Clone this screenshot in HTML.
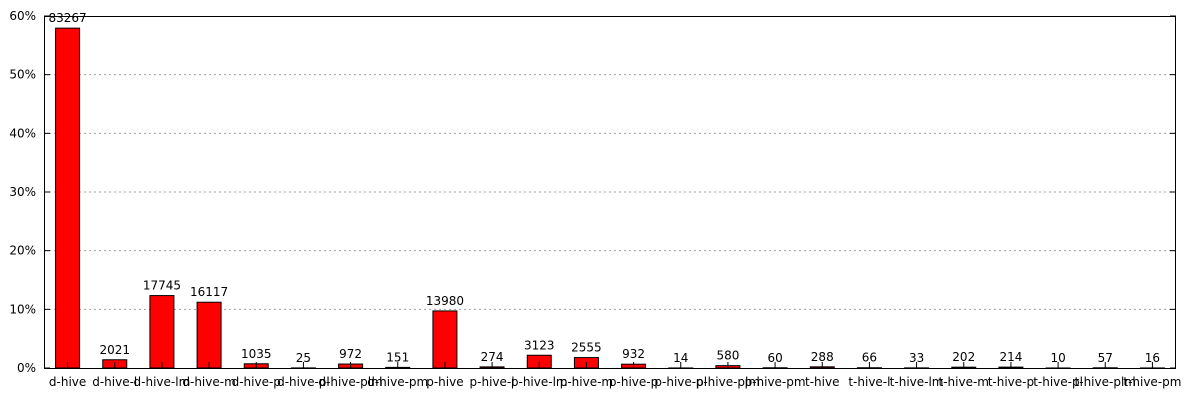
<!DOCTYPE html>
<html><head><meta charset="utf-8"><style>
html,body{margin:0;padding:0;background:#fff;}
svg text{font-family:"DejaVu Sans","Liberation Sans",sans-serif;font-size:12px;fill:#000;}
</style></head><body>
<svg id="chart" width="1200" height="400" xmlns="http://www.w3.org/2000/svg"></svg>
<script>
const categories = ["d-hive","d-hive-l","d-hive-lm","d-hive-m","d-hive-p","d-hive-pl","d-hive-plm","d-hive-pm","p-hive","p-hive-l","p-hive-lm","p-hive-m","p-hive-p","p-hive-pl","p-hive-plm","p-hive-pm","t-hive","t-hive-l","t-hive-lm","t-hive-m","t-hive-p","t-hive-pl","t-hive-plm","t-hive-pm"];
const counts = [83267,2021,17745,16117,1035,25,972,151,13980,274,3123,2555,932,14,580,60,288,66,33,202,214,10,57,16];
const yTicks = [0,10,20,30,40,50,60];
const yTickLabels = ["0%","10%","20%","30%","40%","50%","60%"];

const svg = document.getElementById('chart');
const NS = 'http://www.w3.org/2000/svg';
const L = 44, R = 1176, T = 16, B = 368;
const total = counts.reduce((a,b)=>a+b,0);
const band = (R-L)/categories.length;
function xC(i){ return L + band*(i+0.5); }
function y(p){ return B - (p/60)*(B-T); }
function mk(tag, attrs, text){
  const e = document.createElementNS(NS, tag);
  for (const k in attrs) e.setAttribute(k, attrs[k]);
  if (text !== undefined) e.textContent = text;
  svg.appendChild(e);
  return e;
}
yTicks.forEach((t,i)=>{
  if (t>0 && t<60) {
    const g = mk('line',{x1:L,x2:R,y1:y(t),y2:y(t),stroke:'#a0a0a0','stroke-dasharray':'2,3','stroke-width':1});
    
    
  }
  const tk = mk('line',{x1:L,x2:L+6,y1:y(t),y2:y(t),stroke:'#000'});
  
  
  const tk2 = mk('line',{x1:R-6,x2:R,y1:y(t),y2:y(t),stroke:'#000'});
  
  
  const lb = mk('text',{x:L-8,y:y(t)+4,'text-anchor':'end'},yTickLabels[i]);
  
  
});
categories.forEach((c,i)=>{
  const p = counts[i]/total*100;
  const top = y(p);
  const bar = mk('rect',{x:xC(i)-12,y:top,width:24,height:Math.max(B-top,0.5),fill:'#ff0000',stroke:'#000','stroke-width':1});
  
  
  const tk = mk('line',{x1:xC(i),x2:xC(i),y1:B,y2:B-6,stroke:'#000'});
  
  
  const v = mk('text',{x:xC(i),y:top-6,'text-anchor':'middle'},String(counts[i]));
  
  
  const xl = mk('text',{x:xC(i),y:386,'text-anchor':'middle'},c);
  
  
});
const frame = mk('rect',{x:L+0.5,y:T+0.5,width:R-L-1,height:B-T,fill:'none',stroke:'#000'});


</script>
</body></html>
